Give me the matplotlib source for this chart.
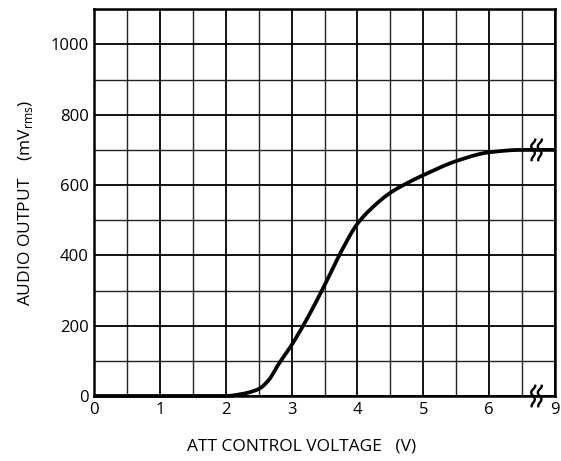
import numpy as np
import matplotlib
matplotlib.use("Agg")
import matplotlib.pyplot as plt
from matplotlib.ticker import MultipleLocator

# Data
voltage = [0.0, 1.0, 2.0, 2.25, 2.5, 2.65, 2.8, 3.0, 3.25, 3.5, 3.75, 4.0, 4.25, 4.5, 4.75, 5.0, 5.5, 6.0, 6.5, 7.0]
output_mv = [0, 0, 0, 6, 20, 45, 90, 145, 225, 315, 410, 490, 540, 578, 605, 628, 668, 693, 700, 700]

x_ticks = [0, 1, 2, 3, 4, 5, 6, 7]
x_ticklabels = ["0", "1", "2", "3", "4", "5", "6", "9"]
y_ticks = [0, 200, 400, 600, 800, 1000]

plt.rcParams['font.family'] = ['Open Sans', 'DejaVu Sans']

fig = plt.figure(figsize=(5.61, 4.61), dpi=100)
ax = fig.add_axes([0.168, 0.141, 0.821, 0.839])

ax.set_xlim(0, 7)
ax.set_ylim(0, 1100)
ax.xaxis.set_minor_locator(MultipleLocator(0.5))
ax.yaxis.set_minor_locator(MultipleLocator(100))
ax.set_xticks(x_ticks)
ax.set_xticklabels(x_ticklabels)
ax.set_yticks(y_ticks)
ax.grid(which='major', color='black', linewidth=1.3)
ax.grid(which='minor', color='#222222', linewidth=1.0)
ax.tick_params(which='both', length=0, labelsize=12, pad=4)
for s in ax.spines.values():
    s.set_linewidth(1.8)
ax.set_axisbelow(True)

# smooth monotone curve through read points (PCHIP)
xs = np.linspace(0, 7, 500)
xv = np.array(voltage, float); yv = np.array(output_mv, float)
h = np.diff(xv); d = np.diff(yv) / h
m = np.zeros_like(yv)
for i in range(1, len(xv) - 1):
    if d[i-1] * d[i] <= 0:
        m[i] = 0
    else:
        w1 = 2*h[i] + h[i-1]; w2 = h[i] + 2*h[i-1]
        m[i] = (w1 + w2) / (w1/d[i-1] + w2/d[i])
idx = np.clip(np.searchsorted(xv, xs) - 1, 0, len(xv) - 2)
t = (xs - xv[idx]) / h[idx]
h00 = 2*t**3 - 3*t**2 + 1; h10 = t**3 - 2*t**2 + t
h01 = -2*t**3 + 3*t**2; h11 = t**3 - t**2
ys = h00*yv[idx] + h10*h[idx]*m[idx] + h01*yv[idx+1] + h11*h[idx]*m[idx+1]
ax.plot(xs, ys, color='black', linewidth=2.7, solid_capstyle='butt', clip_on=False, zorder=3)

# axis break symbols (zigzag pair)
def brk(xc, yc):
    s = np.linspace(0, 1, 60)
    for off in (-0.05, 0.05):
        bx = xc + off + 0.032*np.cos(3*np.pi*s) * (1 - 0.3*s)
        by = yc + 29 - 58*s
        ax.plot(bx, by, color='black', linewidth=1.7, zorder=4, clip_on=False)
brk(6.72, 700)
brk(6.72, 0)

ax.set_xlabel("ATT CONTROL VOLTAGE   (V)", fontsize=12.5)
ax.xaxis.set_label_coords(0.451, -0.111)
ax.set_ylabel("AUDIO OUTPUT    (mV$_{\\mathregular{rms}}$)", fontsize=12.5, labelpad=11)

fig.savefig("out.png", dpi=100)
